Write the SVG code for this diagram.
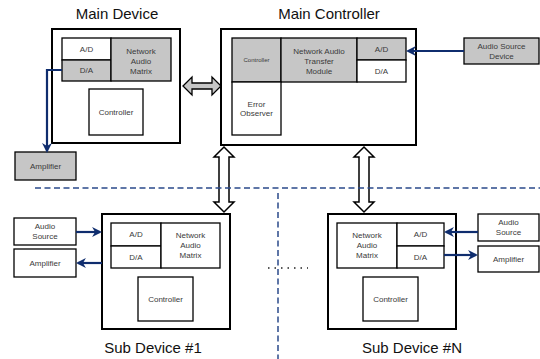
<svg xmlns="http://www.w3.org/2000/svg" width="540" height="359" viewBox="0 0 540 359">
<style>
text{font-family:"Liberation Sans",Arial,sans-serif;fill:#3a3a3a;}
.t{font-size:15px;fill:#111;text-anchor:middle;}
.s{font-size:8px;text-anchor:middle;}
.xs{font-size:6px;text-anchor:middle;}
.outer{fill:#fff;stroke:#000;stroke-width:2;}
.w{fill:#fff;stroke:#000;stroke-width:1.3;}
.g{fill:#c6c6c6;stroke:#000;stroke-width:1.3;}
.blue{fill:none;stroke:#0f2d6e;stroke-width:2.2;marker-end:url(#ah);}
.dash{fill:none;stroke:#2a4a8a;stroke-width:1.5;stroke-dasharray:6 3.5;}
.dbl{fill:#fff;stroke:#000;stroke-width:1.5;stroke-linejoin:miter;}
</style>
<defs>
<marker id="ah" viewBox="0 0 10 10" refX="8" refY="5" markerWidth="4.5" markerHeight="4.5" orient="auto" markerUnits="strokeWidth">
<path d="M0,0 L10,5 L0,10 L3,5 Z" fill="#0f2d6e"/>
</marker>
</defs>

<g id="main-device">
<text class="t" x="117" y="19">Main Device</text>
<rect class="outer" x="52" y="29" width="128" height="114"/>
<rect class="w" x="62" y="38" width="49" height="22"/>
<text class="s" x="86.5" y="52">A/D</text>
<rect class="g" x="62" y="60" width="49" height="21"/>
<text class="s" x="86.5" y="73">D/A</text>
<rect class="g" x="111" y="38" width="60" height="43"/>
<text class="s" x="141" y="54">Network</text>
<text class="s" x="141" y="64">Audio</text>
<text class="s" x="141" y="74">Matrix</text>
<rect class="w" x="89" y="89" width="54" height="46"/>
<text class="s" x="116" y="115">Controller</text>
</g>

<g id="main-amplifier">
<rect class="g" x="15" y="152" width="61" height="28"/>
<text class="s" x="45.5" y="169">Amplifier</text>
</g>

<g id="main-controller">
<text class="t" x="329" y="19">Main Controller</text>
<rect class="outer" x="221" y="29" width="195" height="116"/>
<rect class="g" x="232" y="38" width="49" height="44"/>
<text class="xs" x="256.5" y="62">Controller</text>
<rect class="g" x="281" y="38" width="76" height="44"/>
<text class="s" x="319" y="54">Network Audio</text>
<text class="s" x="319" y="64">Transfer</text>
<text class="s" x="319" y="74">Module</text>
<rect class="g" x="357" y="38" width="49" height="22"/>
<text class="s" x="381.5" y="52">A/D</text>
<rect class="w" x="357" y="60" width="49" height="22"/>
<text class="s" x="381.5" y="74">D/A</text>
<rect class="w" x="232" y="82" width="49" height="53"/>
<text class="s" x="256.5" y="107">Error</text>
<text class="s" x="256.5" y="116">Observer</text>
</g>

<g id="audio-source-device">
<rect class="g" x="464" y="38" width="75" height="26"/>
<text class="s" x="501.5" y="49">Audio Source</text>
<text class="s" x="501.5" y="59">Device</text>
</g>

<g id="sub-device-1">
<rect class="outer" x="102" y="214" width="128" height="115"/>
<rect class="w" x="111" y="223" width="50" height="23"/>
<text class="s" x="136" y="237">A/D</text>
<rect class="w" x="111" y="246" width="50" height="22"/>
<text class="s" x="136" y="260">D/A</text>
<rect class="w" x="161" y="223" width="59" height="45"/>
<text class="s" x="190.5" y="238">Network</text>
<text class="s" x="190.5" y="248">Audio</text>
<text class="s" x="190.5" y="258">Matrix</text>
<rect class="w" x="138" y="277" width="55" height="44"/>
<text class="s" x="165.5" y="302">Controller</text>
<text class="t" x="153" y="353">Sub Device #1</text>
</g>

<g id="sub1-audio-source">
<rect class="w" x="14" y="218" width="62" height="27"/>
<text class="s" x="45" y="229">Audio</text>
<text class="s" x="45" y="239">Source</text>
</g>
<g id="sub1-amplifier">
<rect class="w" x="14" y="249" width="62" height="28"/>
<text class="s" x="45" y="266">Amplifier</text>
</g>

<g id="sub-device-n">
<rect class="outer" x="328" y="214" width="128" height="115"/>
<rect class="w" x="337" y="223" width="60" height="45"/>
<text class="s" x="367" y="238">Network</text>
<text class="s" x="367" y="248">Audio</text>
<text class="s" x="367" y="258">Matrix</text>
<rect class="w" x="397" y="223" width="47" height="23"/>
<text class="s" x="420.5" y="237">A/D</text>
<rect class="w" x="397" y="246" width="47" height="22"/>
<text class="s" x="420.5" y="260">D/A</text>
<rect class="w" x="363" y="277" width="55" height="44"/>
<text class="s" x="390.5" y="302">Controller</text>
<text class="t" x="412" y="353">Sub Device #N</text>
</g>

<g id="subn-audio-source">
<rect class="w" x="478" y="214" width="61" height="27"/>
<text class="s" x="508.5" y="225">Audio</text>
<text class="s" x="508.5" y="235">Source</text>
</g>
<g id="subn-amplifier">
<rect class="w" x="478" y="246" width="61" height="26"/>
<text class="s" x="508.5" y="262">Amplifier</text>
</g>

<g id="connectors">
<polyline class="blue" points="62,70 47,70 47,151"/>
<line class="blue" x1="464" y1="51" x2="408" y2="51"/>
<line class="blue" x1="76" y1="232" x2="100" y2="232"/>
<line class="blue" x1="102" y1="263" x2="78" y2="263"/>
<line class="blue" x1="478" y1="232" x2="446" y2="232"/>
<line class="blue" x1="444" y1="255" x2="476" y2="255"/>
<polygon fill="#c6c6c6" stroke="#000" stroke-width="1.3" points="183,86 192,77 192,83 212,83 212,77 221,86 212,95 212,89 192,89 192,95"/>
<polygon class="dbl" points="224,147 214,157 219,157 219,202 214,202 224,212 234,202 229,202 229,157 234,157"/>
<polygon class="dbl" points="364,147 354,157 359,157 359,202 354,202 364,212 374,202 369,202 369,157 374,157"/>
<line class="dash" x1="35" y1="188" x2="540" y2="188"/>
<line class="dash" x1="278" y1="193" x2="278" y2="359"/>
<line x1="268" y1="268" x2="308" y2="268" stroke="#222" stroke-width="1.5" stroke-dasharray="1.5 5"/>
</g>
</svg>
